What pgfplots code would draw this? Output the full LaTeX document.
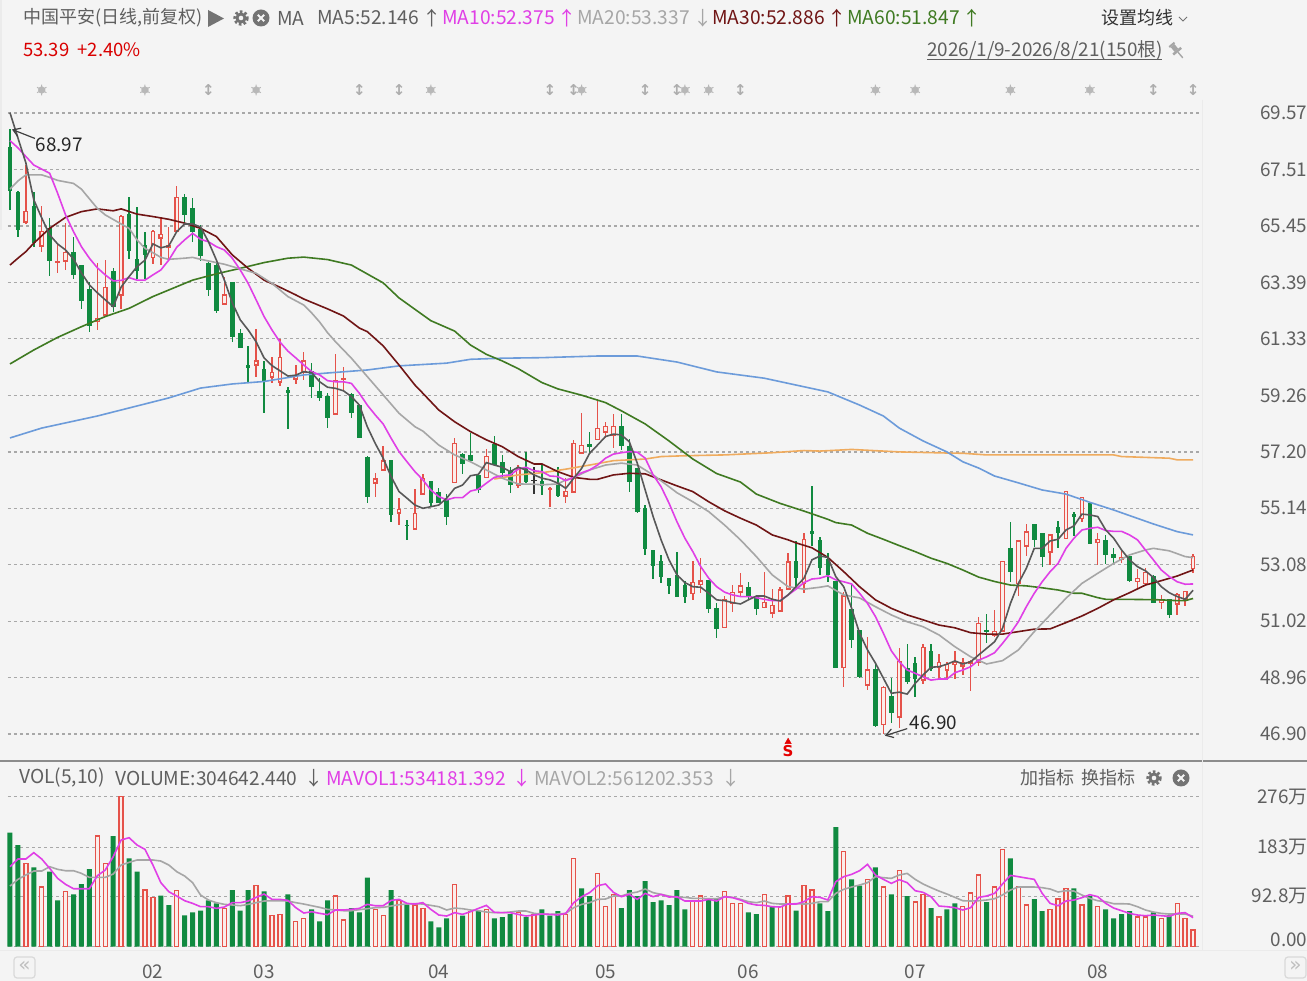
\documentclass[border=0pt]{standalone}
\usepackage{fontspec}
\usepackage{pgfplots}
\usepackage{pgfplotstable}
\pgfplotsset{compat=1.18}
\usetikzlibrary{arrows.meta}
\setmainfont{Noto Sans CJK SC}
\newfontfamily\symb{DejaVu Sans}

\definecolor{bg}{HTML}{F4F4F4}
\definecolor{cred}{HTML}{E5524A}
\definecolor{cgreen}{HTML}{108A40}
\definecolor{hollow}{HTML}{FBEDEA}
\definecolor{griddash}{HTML}{A8A8A8}
\definecolor{txt}{HTML}{5F5F5F}
\definecolor{ma5}{HTML}{585858}
\definecolor{ma10}{HTML}{E03FE6}
\definecolor{ma20}{HTML}{A6A6A6}
\definecolor{ma30}{HTML}{701515}
\definecolor{ma60}{HTML}{3F7A22}
\definecolor{ma120}{HTML}{6C9BDA}
\definecolor{ma250}{HTML}{EFAB5E}

% candles, up days: i open close high low
\pgfplotstableread{
i o c h l
2 65.60 65.99 67.67 65.52
4 64.73 65.24 66.18 64.51
6 64.13 64.16 64.81 63.74
7 64.18 64.47 65.57 63.84
11 61.97 62.06 64.09 61.65
12 62.20 63.21 64.20 62.14
14 62.94 65.79 65.85 62.41
18 64.30 65.24 65.30 64.06
19 65.01 65.15 65.79 64.02
20 64.68 64.72 65.40 64.20
21 65.27 66.49 66.91 65.24
27 62.60 62.93 63.60 62.60
31 60.39 60.52 61.69 59.92
33 59.95 60.09 60.68 59.70
34 59.76 60.65 61.31 59.61
36 59.86 59.98 60.37 59.68
37 60.12 60.52 60.86 59.82
41 58.58 59.80 60.77 58.58
42 59.85 59.87 60.31 59.43
46 56.08 56.21 56.42 55.57
47 56.54 56.87 57.43 56.54
49 54.98 55.11 55.51 54.53
51 54.40 54.96 55.84 54.37
52 55.67 56.24 56.40 55.67
56 56.09 57.51 57.70 56.08
60 56.27 57.03 57.30 56.24
64 55.99 56.56 56.72 55.87
68 55.84 55.87 55.93 55.20
70 55.59 55.75 56.24 55.32
71 55.75 57.51 57.64 55.71
72 57.17 57.45 58.63 57.15
74 57.66 58.06 59.12 57.64
75 57.94 58.12 58.28 57.70
76 57.82 58.12 58.58 57.33
86 52.04 52.43 53.20 51.80
87 52.37 52.49 53.32 52.06
90 50.80 51.80 51.94 50.77
91 51.70 52.06 52.34 51.37
92 52.10 52.31 52.77 51.92
95 51.53 51.71 52.82 51.49
96 51.33 51.61 52.21 51.13
97 51.40 52.16 52.26 51.37
98 52.20 53.18 53.50 52.16
100 52.40 54.01 54.23 52.06
105 49.34 51.94 52.10 48.63
108 48.69 49.24 50.46 48.51
110 47.26 48.60 48.66 46.90
112 47.54 49.54 50.03 47.13
115 48.87 50.07 50.19 48.73
117 49.34 49.51 49.82 48.90
118 49.24 49.45 49.54 48.87
119 49.46 49.52 49.94 48.90
120 49.39 49.51 49.69 49.06
121 49.50 49.54 49.60 48.47
122 49.54 50.94 51.19 49.39
124 50.52 50.66 51.43 50.44
125 50.67 53.19 53.23 50.64
127 52.40 53.95 53.99 51.95
128 53.77 54.28 54.57 53.40
131 53.56 54.17 54.19 53.07
133 54.05 55.75 55.79 54.02
135 54.78 55.54 55.57 54.65
137 53.90 54.01 54.23 53.07
140 53.28 53.35 53.62 53.16
142 52.48 52.57 52.92 52.22
143 52.40 52.81 52.95 52.32
145 51.73 51.80 51.98 51.47
147 51.65 52.01 52.06 51.25
148 51.80 52.10 52.13 51.59
149 52.95 53.39 53.47 52.79
}\upc

% candles, down days
\pgfplotstableread{
i o c h l
0 68.32 66.76 68.97 66.03
1 66.66 65.33 66.73 65.06
3 66.15 64.84 66.70 64.69
5 65.36 64.17 65.73 63.63
8 64.47 63.66 65.03 63.51
9 63.99 62.71 63.99 62.42
10 63.11 61.81 63.41 61.59
13 63.77 62.50 63.90 62.32
15 65.85 64.57 66.52 64.23
16 64.21 63.84 66.13 63.51
17 64.72 64.39 65.24 63.51
22 66.49 65.85 66.61 65.57
23 66.08 65.24 66.46 64.87
24 65.33 64.36 65.48 64.17
25 64.06 63.14 64.12 62.90
26 64.02 62.35 64.09 62.26
28 63.39 61.43 63.41 61.22
29 61.53 61.00 61.68 60.98
30 60.37 60.29 61.08 59.70
32 60.22 59.76 60.53 58.63
35 59.43 59.36 59.56 58.04
38 60.13 59.58 60.44 59.18
39 59.39 59.18 59.89 59.07
40 59.22 58.46 59.34 58.08
43 59.28 58.65 59.34 58.43
44 58.88 57.73 58.88 57.70
45 56.99 55.59 57.05 55.34
48 56.88 54.92 56.88 54.65
50 54.52 54.50 54.71 53.99
53 56.10 55.36 56.11 55.24
54 55.71 55.36 55.87 55.33
55 55.45 54.84 55.66 54.53
57 57.09 56.79 57.17 56.40
58 57.08 56.87 57.88 56.84
59 56.35 55.84 56.40 55.69
61 57.48 56.76 57.79 56.69
62 56.81 56.44 57.09 56.30
63 56.48 56.03 56.66 55.69
65 56.64 56.11 57.19 56.08
67 56.11 55.99 56.72 55.63
69 55.99 55.60 56.66 55.54
73 57.48 57.39 57.92 57.11
77 58.12 57.45 58.58 57.27
78 57.39 56.11 57.66 55.75
79 56.60 55.02 56.60 54.98
80 55.12 53.66 55.26 53.44
81 53.60 53.07 53.62 52.56
82 53.19 52.67 53.44 52.40
83 52.59 52.32 52.61 52.01
84 52.67 51.94 53.54 51.92
85 52.34 51.91 52.50 51.67
88 52.50 51.49 52.53 51.31
89 51.49 50.74 51.67 50.42
93 52.26 51.91 52.44 51.80
94 51.91 51.47 51.98 51.25
99 53.21 52.62 53.96 52.28
101 54.29 54.21 55.96 53.77
102 53.96 52.99 54.08 52.71
103 53.26 52.71 53.52 52.46
104 52.46 49.34 52.46 49.34
106 51.43 50.37 52.40 50.03
107 50.67 49.02 50.70 48.94
109 49.24 47.20 49.51 47.15
111 48.27 47.70 48.94 47.30
113 49.30 48.81 50.19 48.73
114 49.49 48.94 49.73 48.24
116 49.91 49.28 50.19 49.21
123 50.67 50.64 51.28 50.21
126 53.68 52.85 54.63 52.46
129 54.56 54.01 54.57 53.72
130 54.23 53.40 54.25 53.01
132 54.45 54.27 54.68 53.68
134 54.90 54.86 54.99 54.14
136 55.32 53.87 55.35 53.83
138 53.96 53.44 54.17 53.11
139 53.46 53.35 53.68 53.11
141 53.38 52.49 53.40 52.44
144 52.65 51.71 52.71 51.67
146 51.80 51.25 51.82 51.15
}\downc

% volume in units of 10^4 lots
\pgfplotstableread{
i v
2 153.3
4 109.8
7 101.2
11 203.6
12 153.3
14 276
17 104.3
18 90.8
21 103.6
27 70.5
31 112.2
33 57.0
34 59.5
36 46.0
37 51.5
41 93.2
42 49.1
46 68.1
47 57.0
49 85.2
51 76.7
52 70.5
56 114.7
58 64.4
60 68.1
64 63.2
66 59.5
70 59.5
71 161.9
74 134.3
75 73.6
76 96.3
86 85.2
87 93.2
90 101.2
91 79.7
92 79.7
95 95.7
97 73.6
98 93.2
100 112.2
101 104.3
105 175.4
108 123.9
110 109.8
112 139.8
114 82.2
115 96.3
117 54.6
120 73.6
121 98.7
122 131.9
124 109.8
125 179.1
127 109.8
128 76.7
131 68.1
132 87.7
133 107.3
135 76.7
137 74.2
142 54.6
143 54.6
145 52.1
147 79.1
148 52.1
149 30.5
}\volup

\pgfplotstableread{
i v
0 209.8
1 187.1
3 146.0
5 138.0
6 85.2
8 96.3
9 115.3
10 142.9
13 203.6
15 162.5
16 138.0
19 93.8
20 76.7
22 57.6
23 63.2
24 66.2
25 85.2
26 79.7
28 104.3
29 66.2
30 104.3
32 101.8
35 96.3
38 68.7
39 46.6
40 85.2
43 71.1
44 63.2
45 127.0
48 104.3
50 76.7
53 46.6
54 35.6
55 52.1
57 57.0
59 66.2
61 52.1
62 54.6
63 60.1
65 54.6
67 68.7
68 57.0
69 65.6
72 107.3
73 93.2
77 71.1
78 104.3
79 93.2
80 120.8
81 82.2
82 85.2
83 76.7
84 104.3
85 68.7
88 87.7
89 87.7
93 63.2
94 60.1
96 73.6
99 66.2
102 79.7
103 65.6
104 220.2
106 123.9
107 112.2
109 146.0
111 96.3
113 93.2
116 71.1
118 68.7
119 79.7
123 82.2
126 162.5
129 87.7
130 65.6
134 107.3
136 93.2
138 68.7
139 52.1
140 60.1
141 65.6
144 63.2
146 57.6
}\voldown

\begin{document}
\begin{tikzpicture}
\useasboundingbox (0,0) rectangle (1307pt,981pt);
\fill[bg] (0,0) rectangle (1307pt,981pt);

\begin{axis}[
  name=price,
  at={(8pt,221pt)}, anchor=south west,
  scale only axis, width=1193pt, height=700pt,
  xmin=-0.25, xmax=150, ymin=45.955, ymax=71.505,
  clip=false,
  axis line style={draw=none},
  tick style={draw=none},
  xtick=\empty,
  ytick={46.90,48.96,51.02,53.08,55.14,57.20,59.26,61.33,63.39,65.45,67.51,69.57},
  yticklabels={46.90,48.96,51.02,53.08,55.14,57.20,59.26,61.33,63.39,65.45,67.51,69.57},
  ytick pos=right, yticklabel pos=right,
  yticklabel style={anchor=east, xshift=110pt, font=\fontsize{18.9}{20}\selectfont, text=txt},
  ymajorgrids,
  major grid style={griddash, line width=1.4pt, dash pattern=on 3pt off 3pt},
]
% wicks
\addplot[draw=none, mark=none, error bars/.cd, y dir=both, y explicit, error mark=none,
  error bar style={line width=1.4pt, draw=cgreen}]
  table[x=i, y=o, y error plus expr={\thisrow{h}-\thisrow{o}}, y error minus expr={\thisrow{o}-\thisrow{l}}] {\downc};
\addplot[draw=none, mark=none, error bars/.cd, y dir=both, y explicit, error mark=none,
  error bar style={line width=1.4pt, draw=cred}]
  table[x=i, y=o, y error plus expr={\thisrow{h}-\thisrow{o}}, y error minus expr={\thisrow{o}-\thisrow{l}}] {\upc};
% bodies
\addplot[draw=none, mark=none, error bars/.cd, y dir=both, y explicit, error mark=none,
  error bar style={line width=4.6pt, draw=cgreen}]
  table[x=i, y=o, y error plus expr={0.02}, y error minus expr={\thisrow{o}-\thisrow{c}+0.02}] {\downc};
\addplot[draw=none, mark=none, error bars/.cd, y dir=both, y explicit, error mark=none,
  error bar style={line width=4.8pt, draw=cred}]
  table[x=i, y=o, y error plus expr={\thisrow{c}-\thisrow{o}+0.02}, y error minus expr={0.02}] {\upc};
\addplot[draw=none, mark=none, error bars/.cd, y dir=both, y explicit, error mark=none,
  error bar style={line width=2.4pt, draw=hollow}]
  table[x=i, y expr={(\thisrow{o}+\thisrow{c})/2},
        y error plus expr={max((\thisrow{c}-\thisrow{o})/2-0.025,0)},
        y error minus expr={max((\thisrow{c}-\thisrow{o})/2-0.025,0)}] {\upc};
% the odd flat black candle
\addplot[draw=none, mark=none, error bars/.cd, y dir=both, y explicit, error mark=none,
  error bar style={line width=1.4pt, draw=black!80}]
  coordinates {(66,56.16) +- (0,0.5)};
\addplot[only marks, mark=-, mark size=2.6pt, mark options={black!80, line width=1.3pt}] coordinates {(66,56.16)};

% moving averages
\addplot[ma250, line width=1.6pt] coordinates {(61,56.21)(64,56.36)(67,56.44)(70,56.57)(73,56.72)(76,56.88)(80,56.94)(82,57.03)(85,57.06)(90,57.09)(96,57.17)(100,57.25)(102,57.23)(106,57.29)(112,57.20)(118,57.16)(120,57.15)(123,57.09)(130,57.09)(139,57.09)(140,57.03)(143,57.00)(146,56.97)(147,56.91)(149,56.91)};
\addplot[ma120, line width=1.6pt] coordinates {(0,57.71)(4,58.07)(11,58.51)(20,59.17)(24,59.53)(28,59.68)(32,59.77)(37,60.01)(40,60.08)(45,60.19)(49,60.34)(55,60.44)(58,60.58)(62,60.62)(67,60.64)(74,60.70)(79,60.70)(84,60.48)(89,60.12)(95,59.89)(99,59.64)(103,59.39)(107,58.91)(110,58.51)(112,58.07)(115,57.60)(118,57.20)(120,56.84)(122,56.61)(124,56.32)(127,56.07)(130,55.81)(133,55.66)(136,55.36)(139,55.08)(144,54.57)(147,54.29)(149,54.17)};
\addplot[ma60, line width=1.6pt] coordinates {(0,60.41)(3,60.92)(6,61.38)(9,61.77)(12,62.14)(15,62.44)(18,62.87)(21,63.23)(23,63.47)(26,63.70)(29,63.90)(32,64.11)(35,64.27)(37,64.31)(40,64.22)(43,64.02)(47,63.37)(49,62.82)(53,61.99)(56,61.61)(58,61.10)(60,60.76)(62,60.52)(64,60.24)(67,59.73)(69,59.50)(72,59.27)(75,59.00)(77,58.70)(80,58.22)(83,57.60)(86,56.94)(89,56.41)(92,56.10)(94,55.66)(97,55.32)(100,55.04)(102,54.84)(103,54.74)(104,54.62)(106,54.53)(108,54.23)(110,54.01)(112,53.78)(114,53.56)(116,53.32)(118,53.13)(120,52.89)(122,52.63)(124,52.47)(126,52.34)(128,52.31)(130,52.24)(132,52.16)(134,52.04)(135,52.04)(137,51.88)(138,51.82)(140,51.82)(143,51.81)(145,51.80)(147,51.77)(148,51.77)(149,51.85)};
\addplot[ma30, line width=1.6pt] coordinates {(0,64.02)(1,64.27)(2,64.51)(3,64.82)(5,65.36)(7,65.76)(9,65.97)(11,66.07)(13,66.00)(14,66.07)(16,65.88)(18,65.79)(20,65.69)(22,65.55)(24,65.36)(26,65.06)(28,64.39)(30,63.90)(32,63.47)(34,63.21)(36,62.93)(37,62.78)(40,62.42)(42,62.16)(44,61.72)(45,61.59)(47,61.07)(49,60.37)(51,59.64)(52,59.34)(54,58.73)(56,58.30)(58,57.94)(60,57.64)(62,57.39)(64,57.03)(66,56.76)(67,56.76)(69,56.48)(71,56.27)(73,56.20)(74,56.20)(76,56.36)(78,56.42)(80,56.40)(82,56.18)(84,55.96)(86,55.75)(88,55.38)(90,55.05)(92,54.78)(94,54.53)(96,54.17)(98,53.99)(99,53.88)(101,53.70)(103,53.35)(105,52.83)(107,52.28)(109,51.80)(111,51.49)(113,51.25)(115,51.07)(117,50.88)(119,50.78)(121,50.60)(123,50.55)(125,50.55)(127,50.64)(129,50.73)(131,50.74)(133,50.97)(135,51.21)(137,51.49)(139,51.80)(141,52.06)(143,52.34)(145,52.50)(147,52.67)(149,52.89)};
\addplot[ma20, line width=1.6pt] coordinates {(0,66.79)(1,67.09)(2,67.31)(4,67.31)(5,67.22)(6,67.11)(8,67.00)(9,66.79)(11,66.09)(12,65.85)(14,65.52)(15,65.36)(16,64.94)(17,64.63)(18,64.47)(19,64.30)(20,64.23)(22,64.27)(23,64.30)(24,64.23)(25,64.17)(27,64.05)(29,63.88)(31,63.72)(33,63.35)(35,62.87)(37,62.56)(38,62.27)(39,61.94)(40,61.55)(41,61.22)(43,60.62)(45,59.95)(47,59.28)(49,58.61)(51,58.12)(52,57.96)(54,57.45)(56,57.09)(58,56.84)(60,56.54)(62,56.24)(64,56.03)(66,56.02)(67,56.00)(69,56.03)(70,56.18)(71,56.26)(73,56.54)(75,56.72)(77,56.79)(79,56.72)(81,56.36)(83,55.93)(84,55.71)(86,55.38)(88,55.02)(90,54.53)(92,53.99)(94,53.38)(96,52.71)(98,52.28)(100,52.19)(102,52.26)(103,52.31)(105,51.98)(107,51.87)(109,51.55)(111,51.25)(113,51.00)(115,50.82)(117,50.52)(119,50.09)(121,49.72)(123,49.46)(125,49.58)(127,49.97)(129,50.64)(131,51.25)(133,51.86)(135,52.40)(137,52.77)(139,53.13)(141,53.44)(143,53.62)(144,53.68)(146,53.59)(148,53.38)(149,53.34)};
\addplot[ma10, line width=1.6pt] coordinates {(0,68.56)(1,68.30)(2,67.98)(3,67.67)(4,67.52)(5,67.37)(6,66.64)(7,65.85)(8,65.24)(9,64.69)(10,64.27)(11,63.92)(12,63.66)(13,63.44)(14,63.46)(15,63.56)(16,63.47)(17,63.47)(18,63.66)(19,63.84)(20,64.20)(21,64.67)(22,64.94)(23,65.18)(24,64.96)(25,64.87)(26,64.69)(27,64.57)(28,64.27)(29,63.84)(30,63.35)(31,62.75)(32,62.14)(33,61.65)(34,61.21)(35,60.88)(36,60.63)(37,60.37)(38,60.13)(39,60.01)(40,59.80)(41,59.76)(42,59.76)(43,59.70)(44,59.34)(45,58.91)(46,58.55)(47,58.22)(48,57.70)(49,57.21)(50,56.84)(51,56.48)(52,56.18)(53,55.81)(54,55.57)(55,55.45)(56,55.53)(57,55.53)(58,55.77)(59,55.84)(60,56.06)(61,56.27)(62,56.33)(63,56.36)(64,56.57)(65,56.64)(66,56.51)(67,56.48)(68,56.32)(69,56.30)(70,56.15)(71,56.27)(72,56.44)(73,56.54)(74,56.72)(75,56.97)(76,57.12)(77,57.17)(78,57.21)(79,57.19)(80,56.97)(81,56.36)(82,55.93)(83,55.33)(84,54.65)(85,54.05)(86,53.56)(87,53.01)(88,52.59)(89,52.28)(90,52.08)(91,51.98)(92,51.92)(93,51.92)(94,51.88)(95,51.82)(96,51.77)(97,51.77)(98,51.98)(99,52.19)(100,52.43)(101,52.56)(102,52.59)(103,52.68)(104,52.53)(105,52.46)(106,52.38)(107,52.04)(108,51.67)(109,51.19)(110,50.58)(111,49.94)(112,49.54)(113,49.24)(114,49.12)(115,48.99)(116,48.87)(117,48.91)(118,48.91)(119,49.14)(120,49.24)(121,49.36)(122,49.60)(123,49.72)(124,49.87)(125,50.21)(126,50.58)(127,51.00)(128,51.55)(129,52.04)(130,52.46)(131,52.83)(132,53.13)(133,53.68)(134,54.05)(135,54.35)(136,54.41)(137,54.45)(138,54.33)(139,54.30)(140,54.30)(141,54.17)(142,53.99)(143,53.62)(144,53.26)(145,52.89)(146,52.65)(147,52.46)(148,52.37)(149,52.38)};
\addplot[ma5, line width=1.6pt] coordinates {(0,69.58)(1,68.66)(2,67.75)(3,66.40)(4,65.74)(5,65.12)(6,64.79)(7,64.57)(8,64.24)(9,63.73)(10,63.30)(11,63.01)(12,62.75)(13,62.50)(14,63.22)(15,63.60)(16,63.96)(17,64.20)(18,64.79)(19,64.65)(20,64.72)(21,65.24)(22,65.52)(23,65.52)(24,65.41)(25,64.87)(26,64.20)(27,63.47)(28,62.64)(29,62.02)(30,61.65)(31,61.22)(32,60.63)(33,60.35)(34,60.16)(35,59.97)(36,60.00)(37,60.13)(38,60.09)(39,59.76)(40,59.56)(41,59.52)(42,59.43)(43,59.22)(44,58.91)(45,58.12)(46,57.51)(47,56.97)(48,56.30)(49,55.75)(50,55.51)(51,55.26)(52,55.14)(53,55.20)(54,55.26)(55,55.51)(56,55.87)(57,55.99)(58,56.33)(59,56.38)(60,56.81)(61,56.72)(62,56.64)(63,56.48)(64,56.64)(65,56.54)(66,56.36)(67,56.24)(68,56.18)(69,56.06)(70,55.87)(71,56.24)(72,56.60)(73,57.15)(74,57.45)(75,57.76)(76,57.85)(77,57.82)(78,57.57)(79,56.79)(80,55.81)(81,54.84)(82,53.99)(83,53.26)(84,52.71)(85,52.43)(86,52.28)(87,52.26)(88,52.04)(89,51.80)(90,51.77)(91,51.70)(92,51.65)(93,51.80)(94,51.94)(95,51.94)(96,51.82)(97,51.76)(98,51.98)(99,52.28)(100,52.59)(101,53.26)(102,53.40)(103,53.35)(104,52.65)(105,52.28)(106,51.49)(107,50.58)(108,49.97)(109,49.49)(110,48.94)(111,48.39)(112,48.43)(113,48.36)(114,48.75)(115,49.06)(116,49.34)(117,49.36)(118,49.45)(119,49.57)(120,49.46)(121,49.54)(122,49.79)(123,50.03)(124,50.27)(125,50.76)(126,51.67)(127,52.40)(128,52.95)(129,53.68)(130,53.68)(131,53.95)(132,54.01)(133,54.35)(134,54.50)(135,54.93)(136,54.90)(137,54.84)(138,54.35)(139,54.05)(140,53.62)(141,53.26)(142,53.01)(143,52.86)(144,52.62)(145,52.28)(146,52.06)(147,51.92)(148,51.82)(149,52.15)};

% event markers along the top
\addplot[only marks, mark=*, mark size=3.4pt, mark options={draw=black!28, fill=black!28}] coordinates {(4,70.41)(17,70.41)(31,70.41)(53,70.41)(72,70.41)(85,70.41)(88,70.41)(109,70.41)(114,70.41)(126,70.41)(136,70.41)};
\addplot[only marks, mark=asterisk, mark size=5.4pt, mark options={draw=black!28, line width=1pt}] coordinates {(4,70.41)(17,70.41)(31,70.41)(53,70.41)(72,70.41)(85,70.41)(88,70.41)(109,70.41)(114,70.41)(126,70.41)(136,70.41)};
\addplot[only marks, mark=text, text mark={\textcolor{black!32}{\symb\bfseries\fontsize{15}{15}\selectfont ↕}}] coordinates {(25,70.41)(44,70.41)(49,70.41)(68,70.41)(71,70.41)(80,70.41)(84,70.41)(92,70.41)(144,70.41)(149,70.41)};
% sell flag under the low
\addplot[only marks, mark=text, text mark={\textcolor{red!90!black}{\symb\bfseries\fontsize{15}{15}\selectfont S}}] coordinates {(98,46.28)};
\addplot[only marks, mark=triangle*, mark size=3.6pt, mark options={draw=red!90!black, fill=red!90!black}] coordinates {(98,46.62)};

\node[font=\fontsize{18.9}{20}\selectfont, text=black!85, anchor=west, inner sep=0pt] (hi) at (axis cs:3.2,68.40) {68.97};
\node[font=\fontsize{18.9}{20}\selectfont, text=black!85, anchor=west, inner sep=0pt] (lo) at (axis cs:113.3,47.32) {46.90};
\draw[-{Straight Barb[length=7pt,width=9pt]}, black!75, line width=1.2pt] (axis cs:3.15,68.64) -- (axis cs:0.25,68.97);
\draw[-{Straight Barb[length=7pt,width=9pt]}, black!75, line width=1.2pt] (axis cs:113.0,47.10) -- (axis cs:110.2,46.84);
\end{axis}

\begin{axis}[
  at={(8pt,34.3pt)}, anchor=south west,
  scale only axis, width=1193pt, height=150pt,
  xmin=-0.25, xmax=150, ymin=0, ymax=276,
  clip=false,
  axis line style={draw=none},
  tick style={draw=none},
  xtick={18,32,54,75,93,114,137},
  xticklabels={02,03,04,05,06,07,08},
  xticklabel style={font=\fontsize{18.9}{20}\selectfont, text=txt, yshift=-15pt},
  ytick={0,92.8,183,276},
  yticklabels={\raisebox{14pt}{0.00},92.8万,183万,276万},
  ytick pos=right, yticklabel pos=right,
  yticklabel style={anchor=east, xshift=110pt, font=\fontsize{18.9}{20}\selectfont, text=txt},
  ymajorgrids,
  major grid style={griddash, line width=1.4pt, dash pattern=on 3pt off 3pt},
]
\addplot[ybar, bar shift=0pt, bar width=5pt, draw=none, fill=cgreen] table[x=i, y=v] {\voldown};
\addplot[ybar, bar shift=0pt, bar width=4pt, draw=cred, line width=1.3pt, fill=hollow] table[x=i, y=v] {\volup};
\addplot[ma20, line width=1.6pt] coordinates {(0,111.6)(1,123.9)(2,131.9)(3,139.2)(4,139.2)(5,147.2)(6,142.3)(7,139.8)(8,139.8)(9,134.9)(10,127.6)(11,127.6)(12,127.6)(13,133.7)(14,150.3)(15,155.2)(16,159.5)(17,159.5)(18,159.5)(19,157.6)(20,150.3)(21,138)(22,130)(23,117.8)(24,95.1)(25,85.9)(26,81)(27,77.9)(28,76.7)(29,75.4)(30,77.9)(31,81)(32,84)(33,84.6)(34,84.6)(35,84)(36,81)(37,78.5)(38,75.4)(39,72.4)(40,68.7)(41,67.5)(42,66.2)(43,66.2)(44,68.1)(45,69.9)(46,71.8)(47,72.4)(48,74.8)(49,77.3)(50,78.5)(51,79.1)(52,78.5)(53,76)(54,73.6)(55,67.5)(56,71.1)(57,69.9)(58,67.5)(59,66.2)(60,63.8)(61,62.6)(62,62.6)(63,63.8)(64,65.6)(65,65.6)(66,61.3)(67,60.1)(68,59.5)(69,60.1)(70,61.3)(71,71.8)(72,77.9)(73,81)(74,87.1)(75,87.7)(76,93.2)(77,93.2)(78,98.1)(79,100.6)(80,106.1)(81,99.4)(82,96.3)(83,93.2)(84,90.8)(85,90.8)(86,88.9)(87,88.9)(88,88.3)(89,88.3)(90,92)(91,90.8)(92,87.1)(93,82.8)(94,81)(95,84)(96,79.7)(97,78.5)(98,78.5)(99,79.1)(100,78.5)(101,79.7)(102,82.8)(103,82.8)(104,98.1)(105,105.5)(106,109.8)(107,113.5)(108,117.8)(109,128.8)(110,127)(111,125.7)(112,131.9)(113,134.9)(114,123.9)(115,115.3)(116,108.6)(117,102.4)(118,96.9)(119,90.8)(120,84.6)(121,84)(122,84.6)(123,85.9)(124,88.3)(125,95.1)(126,104.3)(127,109.8)(128,109.8)(129,109.8)(130,108.6)(131,106.1)(132,100.6)(133,103)(134,102.4)(135,95.1)(136,88.9)(137,84.6)(138,82.8)(139,79.1)(140,79.1)(141,78.5)(142,73.6)(143,67.5)(144,63.8)(145,61.3)(146,60.1)(147,60.1)(148,60.1)(149,56.1)};
\addplot[ma10, line width=1.6pt] coordinates {(0,147.2)(1,161.3)(2,161.3)(3,173)(4,161.3)(5,144.1)(6,125.7)(7,114.7)(8,106.7)(9,106.7)(10,106.7)(11,130.6)(12,141.1)(13,165.6)(14,196.3)(15,200.5)(16,187.1)(17,179.1)(18,150.3)(19,117.8)(20,101.2)(21,93.2)(22,84.6)(23,79.7)(24,73.6)(25,73.6)(26,70.5)(27,73)(28,81)(29,81)(30,84)(31,90.8)(32,96.9)(33,87.1)(34,87.1)(35,85.2)(36,71.8)(37,61.9)(38,64.4)(39,61.3)(40,58.9)(41,67.5)(42,67.5)(43,68.7)(44,70.5)(45,77.9)(46,75.4)(47,75.4)(48,85.2)(49,87.1)(50,79.7)(51,78.5)(52,81)(53,68.7)(54,58.3)(55,56.4)(56,62.6)(57,59.5)(58,64.4)(59,70.5)(60,76)(61,63.2)(62,62.6)(63,62.6)(64,59.5)(65,56.4)(66,58.3)(67,60.1)(68,59.5)(69,58.3)(70,61.3)(71,81)(72,92)(73,99.4)(74,112.2)(75,115.3)(76,100)(77,92)(78,96.3)(79,87.1)(80,98.1)(81,92)(82,96.3)(83,91.4)(84,92)(85,84)(86,84)(87,84)(88,87.1)(89,84)(90,92)(91,90.2)(92,85.9)(93,79.7)(94,76.7)(95,76)(96,73.6)(97,73)(98,78.5)(99,78.5)(100,82.8)(101,92)(102,90.8)(103,85.9)(104,119.6)(105,128.8)(106,133.1)(107,139.8)(108,151.5)(109,131.9)(110,123.9)(111,116.5)(112,123.3)(113,117.8)(114,103)(115,100)(116,92)(117,74.8)(118,73.6)(119,71.8)(120,67.5)(121,71.8)(122,90.8)(123,93.2)(124,98.1)(125,115.3)(126,131.2)(127,128.8)(128,126.3)(129,123.9)(130,98.1)(131,79.7)(132,75.4)(133,84)(134,85.9)(135,90.2)(136,95.7)(137,92)(138,79.7)(139,71.1)(140,66.2)(141,61.3)(142,58.3)(143,57)(144,58.3)(145,57)(146,55.8)(147,61.3)(148,62.6)(149,53.4)};
\end{axis}

% everything else is placed in the reference's pixels
\begin{scope}[shift={(0,981pt)}, x=1pt, y=-1pt,
  t/.style={anchor=west, inner sep=0pt, font=\fontsize{19.2}{20}\selectfont},
  c/.style={anchor=west, inner sep=0pt, font=\fontsize{18}{20}\selectfont},
  gear/.pic={\fill[black!55] (0,0) circle (5.6);
    \draw[black!55, line width=2.6pt, dash pattern=on 2.6pt off 2.2pt] (0,0) circle (6.4);
    \fill[bg] (0,0) circle (2.3);},
  shut/.pic={\fill[black!55] (0,0) circle (8.5);
    \draw[bg, line width=2pt] (-3.2,-3.2) -- (3.2,3.2) (-3.2,3.2) -- (3.2,-3.2);}]
\draw[black!45, line width=1.2pt] (0,761) -- (1307,761);
\draw[black!8, line width=1pt] (1202,100) -- (1202,950);
\draw[black!8, line width=1pt] (0,950.5) -- (1307,950.5);
\fill[black!8] (0,0) rectangle (2,230);
\node[c, text=txt] at (23,18) {中国平安(日线,前复权)};
\fill[black!55] (208,10) -- (224,18.5) -- (208,27) -- cycle;
\pic at (241,18) {gear};
\pic at (261,18) {shut};
\node[t, text=txt] at (277,18) {MA};
\node[t, text=txt] at (317,18) {MA5:52.146};
\node[t, text=txt] at (422,18) {↑};
\node[t, text=ma10] at (442,18) {MA10:52.375};
\node[t, text=ma10] at (557,18) {↑};
\node[t, text=ma20] at (577,18) {MA20:53.337};
\node[t, text=ma20] at (693,18) {↓};
\node[t, text=ma30] at (712,18) {MA30:52.886};
\node[t, text=ma30] at (827,18) {↑};
\node[t, text=ma60] at (847,18) {MA60:51.847};
\node[t, text=ma60] at (962,18) {↑};
\node[c, text=black!80] at (1101,18) {设置均线};
\draw[black!55, line width=1pt] (1179,17) -- (1183,21) -- (1187,17);
\node[c, text=red!85!black, font=\fontsize{18.5}{20}\selectfont] at (23,50) {53.39\ \ +2.40\%};
\node[t, text=txt, font=\fontsize{18.9}{20}\selectfont] at (927,50) {2026/1/9-2026/8/21(150根)};
\draw[txt, line width=1pt] (927,60) -- (1162,60);
% pin
\begin{scope}[shift={(1177,51)}, rotate=40, black!35]
\fill (-3.4,-9) rectangle (3.4,-7);
\fill (-2.4,-7) rectangle (2.4,-1);
\fill (-5.2,-1) rectangle (5.2,1.5);
\draw[line width=1.4pt] (0,1.5) -- (0,9);
\end{scope}

\node[t, text=txt] at (19,778) {VOL(5,10)};
\node[t, text=txt] at (115,778) {VOLUME:304642.440};
\node[t, text=txt] at (304,778) {↓};
\node[t, text=ma10] at (326,778) {MAVOL1:534181.392};
\node[t, text=ma10] at (512,778) {↓};
\node[t, text=ma20] at (534,778) {MAVOL2:561202.353};
\node[t, text=ma20] at (721,778) {↓};
\node[c, text=txt] at (1020,778) {加指标};
\node[c, text=txt] at (1081,778) {换指标};
\pic at (1154,778) {gear};
\pic at (1181,778) {shut};

\draw[black!15, rounded corners=3pt, line width=1.2pt] (14,957) rectangle (35,978);
\node[text=black!25, inner sep=0pt, font=\symb\fontsize{20}{20}\selectfont] at (24.5,966.5) {«};
\draw[black!15, rounded corners=3pt, line width=1.2pt] (1285,957) rectangle (1306,978);
\node[text=black!25, inner sep=0pt, font=\symb\fontsize{20}{20}\selectfont] at (1295.5,966.5) {»};
\end{scope}
\end{tikzpicture}
\end{document}
